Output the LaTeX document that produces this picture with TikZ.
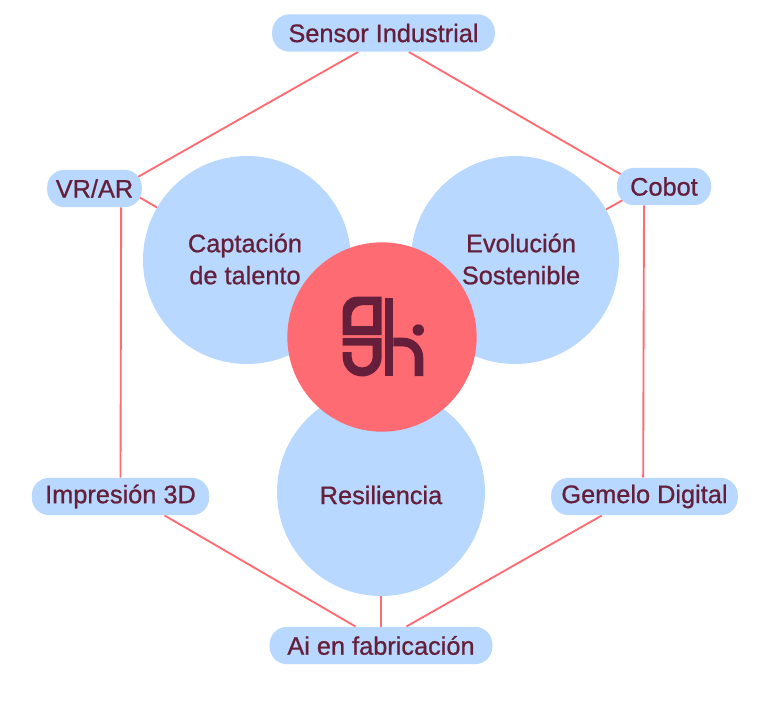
\documentclass[tikz,border=0pt]{standalone}
\usepackage{fontspec}
\setmainfont[FakeBold=0.8]{Liberation Sans}
\usepackage{xcolor}
\definecolor{skyblue}{HTML}{B8D8FF}
\definecolor{coral}{HTML}{FF6B72}
\definecolor{plum}{HTML}{661F3B}
\usetikzlibrary{positioning,calc,backgrounds}

\tikzset{
	pill/.style={fill=skyblue, rounded corners=13pt, text=plum, font=\fontsize{19}{22}\selectfont, minimum height=28pt, inner sep=0pt},
	bubble/.style={circle, fill=skyblue, minimum size=156pt, inner sep=0pt},
	caption/.style={text=plum, font=\fontsize{19}{24}\selectfont, align=center},
	link/.style={draw=coral, line width=1.4pt}
}

\begin{document}
\begin{tikzpicture}[x=0.75pt,y=-0.75pt]
	\useasboundingbox (0,0) rectangle (768,719);
	\node[pill, minimum width=167pt] (sensor) at (383.5,33) {Sensor Industrial};
	\node[pill, minimum width=70.5pt] (cobot) at (664,186.5) {Cobot};
	\node[pill, minimum width=140pt] (gemelo) at (644.5,496.5) {Gemelo Digital};
	\node[pill, minimum width=167pt] (ai) at (381,645.5) {Ai en fabricación};
	\node[pill, minimum width=133pt] (impresion) at (120.5,496.5) {Impresión 3D};
	\node[pill, minimum width=71pt] (vrar) at (94.5,188.5) {VR/AR};
	\node[bubble] (talento) at (247,260) {};
	\node[bubble] (evolucion) at (515,260) {};
	\node[bubble] (resiliencia) at (381,492) {};
	\node[circle, fill=coral, minimum size=142pt, inner sep=0pt] (core) at (382,337) {};
	\node[caption] (talentotext) at (245,259) {Captación\\de talento};
	\node[caption] (evoluciontext) at (521,259) {Evolución\\Sostenible};
	\node[caption] (resilienciatext) at (381,495) {Resiliencia};
	% outer hexagon
	\begin{pgfonlayer}{background}
		\draw[link] ([xshift=-19pt]sensor.south) -- ([xshift=-4pt,yshift=-6pt]vrar.north east);
		\draw[link] ([xshift=19pt]sensor.south) -- ([xshift=3pt,yshift=-5pt]cobot.north west);
		\draw[link] ([xshift=-15pt]cobot.south) -- ([xshift=-1pt]gemelo.north);
		\draw[link] ([xshift=-32pt]gemelo.south) -- ([xshift=19pt]ai.north);
		\draw[link] ([xshift=33pt]impresion.south) -- ([xshift=-19pt]ai.north);
		\draw[link] (impresion.north) -- ([xshift=20pt]vrar.south);
		\draw[link] ([xshift=19pt,yshift=2pt]vrar.center) -- (talento);
		\draw[link] ([xshift=-18pt,yshift=-3pt]cobot.center) -- (evolucion);
		\draw[link] (ai) -- (resiliencia);
	\end{pgfonlayer}
	% logo
	\fill[plum, even odd rule] (381.7,296.7) -- (356.7,296.7) arc[start angle=-90, end angle=-180, radius=14] -- (342.7,335) -- (381.7,335) -- cycle
		(381.7,296.7) -- (373,305) -- (363,305) arc[start angle=-90, end angle=-180, radius=11.7] -- (351.3,326) -- (373,326) -- (373,305) -- cycle;
	\fill[plum] (342.7,338) -- (381.7,338) -- (381.7,357) arc[start angle=0, end angle=180, radius=19.5] -- (342.7,352) -- (351.7,352) -- (351.7,357) arc[start angle=180, end angle=0, radius=10.5] -- (372.7,345.5) -- (342.7,345.5) -- cycle;
	\fill[plum] (384.8,297.5) rectangle (393.3,376);
	\fill[plum] (393.3,337.7) -- (403.3,337.7) arc[start angle=-90, end angle=0, radius=20] -- (423.3,376) -- (414.7,376) -- (414.7,357.7) arc[start angle=0, end angle=-90, radius=11.4] -- (393.3,346.3) -- cycle;
	\fill[plum] (418.3,330) circle (5.7);
\end{tikzpicture}
\end{document}
